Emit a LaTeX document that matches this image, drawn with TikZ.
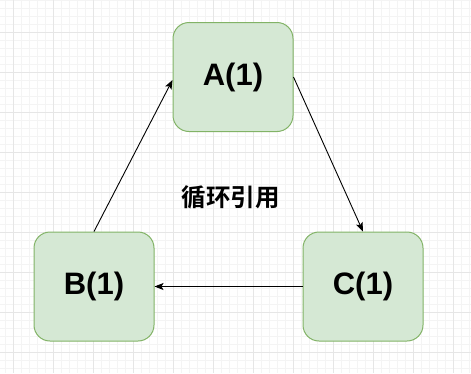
\documentclass[tikz,border=0pt]{standalone}
\usepackage{fontspec}
\setmainfont{Liberation Sans}
\newfontfamily\cjk{Noto Sans CJK SC}[BoldFont={Noto Sans CJK SC Bold}]
\usepackage{xcolor}
\usetikzlibrary{arrows.meta,positioning}

\definecolor{boxfill}{HTML}{D5E8D4}
\definecolor{boxline}{HTML}{82B366}
\definecolor{gridmajor}{HTML}{E6E6E6}
\definecolor{gridminor}{HTML}{F4F4F4}

\begin{document}
\begin{tikzpicture}[
  x=1pt, y=-1pt,
  refbox/.style={draw=boxline, fill=boxfill, line width=1pt, rectangle,
    rounded corners=16pt, minimum width=120pt, minimum height=109pt,
    inner sep=0pt, font=\fontsize{31}{31}\selectfont\bfseries},
  ptr/.style={-{Stealth[length=9pt,width=7pt,inset=2pt]}, line width=0.9pt},
  minorline/.style={gridminor, line width=0.8pt},
  majorline/.style={gridmajor, line width=0.8pt}
]
\useasboundingbox (0,0) rectangle (471,373);
\fill[white] (0,0) rectangle (471,373);
% background grid
\foreach \gx in {5.3,13.3,...,471} \draw[minorline] (\gx,0) -- (\gx,373);
\foreach \gy in {0.3,8.3,...,373} \draw[minorline] (0,\gy) -- (471,\gy);
\foreach \gx in {13.3,53.3,...,471} \draw[majorline] (\gx,0) -- (\gx,373);
\foreach \gy in {32.3,72.3,...,373} \draw[majorline] (0,\gy) -- (471,\gy);

\node[refbox] (a) at (233,77) {A(1)};
\node[refbox] (b) at (94,286.5) {B(1)};
\node[refbox] (c) at (363,286.5) {C(1)};
\node[font=\cjk\bfseries\fontsize{24.5}{24.5}\selectfont] (title) at (230.5,197) {循环引用};

\draw[ptr] (b.north) -- ([yshift=-3pt]a.west);
\draw[ptr] (a.east) -- (c.north);
\draw[ptr] (c.west) -- (b.east);
\end{tikzpicture}
\end{document}
